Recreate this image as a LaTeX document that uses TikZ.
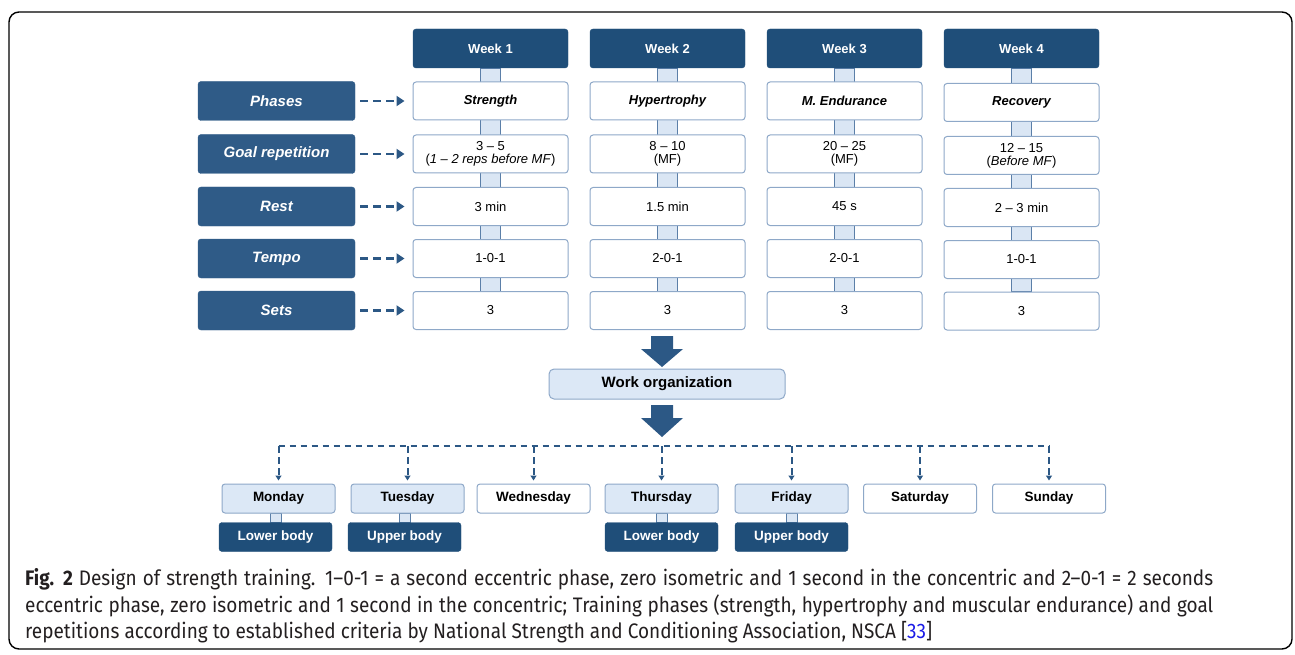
\documentclass[tikz,border=0pt]{standalone}
\usepackage{fontspec}
\setmainfont{Liberation Sans}
\newfontfamily\capfont{Fira Sans}
\usetikzlibrary{arrows.meta,backgrounds,calc}
\definecolor{hdr}{HTML}{1F4E79}
\definecolor{lbl}{HTML}{2F5B87}
\definecolor{cellborder}{HTML}{8EA8C8}
\definecolor{barfill}{HTML}{DAE6F4}
\definecolor{barborder}{HTML}{5B7FA8}
\definecolor{arrc}{HTML}{2C5885}
\definecolor{lightday}{HTML}{DCE8F6}
\definecolor{captext}{HTML}{231F20}
\definecolor{citeblue}{HTML}{1A1AE6}
\newsavebox\capboxA
\newsavebox\capboxB
\newsavebox\capboxC
\newlength\capwidthC
\newlength\capjust
\tikzset{
  hdrbox/.style={rectangle, rounded corners=3pt, fill=hdr, draw=hdr, text=white,
    font=\bfseries\fontsize{13}{15}\selectfont, minimum width=155pt, minimum height=39pt, inner sep=0pt},
  lblbox/.style={rectangle, rounded corners=3pt, fill=lbl, draw=lbl, text=white,
    font=\bfseries\itshape\fontsize{15}{17}\selectfont, minimum width=157pt, minimum height=39pt, inner sep=0pt},
  cellbox/.style={rectangle, rounded corners=3pt, fill=white, draw=cellborder, line width=1pt,
    font=\fontsize{13}{13}\selectfont, align=center, minimum width=155pt, minimum height=38pt, inner sep=0pt},
  phasetxt/.style={font=\bfseries\itshape\fontsize{13}{15}\selectfont},
  bar/.style={fill=barfill, draw=barborder, line width=0.9pt},
  dasharrow/.style={draw=arrc, line width=2.6pt, dash pattern=on 8pt off 5pt,
    -{Triangle[width=10pt,length=8pt]}, shorten <=5pt, shorten >=8pt},
  daydash/.style={draw=arrc, line width=2pt, dash pattern=on 6.5pt off 4.5pt},
  daybox/.style={rectangle, rounded corners=3pt, draw=cellborder, line width=1pt, fill=white,
    font=\bfseries\fontsize{13.5}{15}\selectfont, minimum width=113pt, minimum height=29pt, inner sep=0pt},
  lday/.style={daybox, fill=lightday},
  bodybox/.style={rectangle, rounded corners=3pt, fill=hdr, draw=hdr, text=white,
    font=\bfseries\fontsize{13.5}{15}\selectfont, minimum width=113pt, minimum height=29pt, inner sep=0pt},
  workbox/.style={rectangle, rounded corners=5pt, fill=lightday, draw=cellborder, line width=1pt,
    font=\bfseries\fontsize{15}{17}\selectfont, minimum width=236pt, minimum height=30pt, inner sep=0pt},
  bigarrow/.style={fill=arrc},
  capline/.style={anchor=base west, inner sep=0pt, text=captext}
}
\begin{document}
\sbox\capboxC{\capfont\fontsize{21}{25}\selectfont\color{captext}repetitions according to established criteria by National Strength and Conditioning Association, NSCA [\textcolor{citeblue}{33}]}%
\setlength\capwidthC{\wd\capboxC}%
\pgfmathsetmacro\capscale{907/\capwidthC}%
\pgfmathsetlength\capjust{1188pt/\capscale}%
\sbox\capboxA{\capfont\fontsize{21}{25}\selectfont\color{captext}\hbox to \capjust{\textbf{Fig. 2} Design of strength training. 1–0-1 = a second eccentric phase, zero isometric and 1 second in the concentric and 2–0-1 = 2 seconds}}%
\sbox\capboxB{\capfont\fontsize{21}{25}\selectfont\color{captext}\hbox to \capjust{eccentric phase, zero isometric and 1 second in the concentric; Training phases (strength, hypertrophy and muscular endurance) and goal}}%
\begin{tikzpicture}[x=1pt,y=-1pt]
\useasboundingbox (0,0) rectangle (1295,655);
\draw[black, line width=1.4pt, rounded corners=10pt] (9,12) rectangle (1292,649);

% week headers
\foreach \c/\x in {1/490.5,2/667.5,3/844.5,4/1021.5}
  \node[hdrbox] (w\c) at (\x,48.5) {Week \c};

% row labels
\foreach \r/\y/\t in {1/101/Phases,2/154/Goal repetition,3/206.5/Rest,4/258.5/Tempo,5/310.5/Sets}
  \node[lblbox] (l\r) at (276.5,\y) {\t};

% cells row 1
\node[cellbox,phasetxt] (c11) at (490.5,101) {Strength};
\node[cellbox,phasetxt] (c21) at (667.5,101) {Hypertrophy};
\node[cellbox,phasetxt] (c31) at (844.5,101) {M. Endurance};
\node[cellbox,phasetxt] (c41) at (1021.5,102.5) {Recovery};
% row 2
\node[cellbox] (c12) at (490.5,154) {3 -- 5\\(\textit{1 -- 2 reps before MF})};
\node[cellbox] (c22) at (667.5,154) {8 -- 10\\(MF)};
\node[cellbox] (c32) at (844.5,154) {20 -- 25\\(MF)};
\node[cellbox] (c42) at (1021.5,155.5) {12 -- 15\\(\textit{Before MF})};
% row 3
\node[cellbox] (c13) at (490.5,206.5) {3 min};
\node[cellbox] (c23) at (667.5,206.5) {1.5 min};
\node[cellbox] (c33) at (844.5,206.5) {45 s};
\node[cellbox] (c43) at (1021.5,207.5) {2 -- 3 min};
% row 4
\node[cellbox] (c14) at (490.5,258.5) {1-0-1};
\node[cellbox] (c24) at (667.5,258.5) {2-0-1};
\node[cellbox] (c34) at (844.5,258.5) {2-0-1};
\node[cellbox] (c44) at (1021.5,259.5) {1-0-1};
% row 5
\node[cellbox] (c15) at (490.5,310.5) {3};
\node[cellbox] (c25) at (667.5,310.5) {3};
\node[cellbox] (c35) at (844.5,310.5) {3};
\node[cellbox] (c45) at (1021.5,311) {3};

% connecting bars
\begin{pgfonlayer}{background}
\foreach \c in {1,2,3,4}
  \draw[bar] ($(w\c.south)+(-10,0)$) rectangle ($(c\c5.north)+(10,0)$);
\end{pgfonlayer}

% dashed arrows
\foreach \r in {1,...,5}
  \draw[dasharrow] (l\r.east) -- (c1\r.west);

% work organization
\node[workbox] (wo) at (667,384) {Work organization};
\coordinate (a1) at (662,336);
\fill[bigarrow] ($(a1)+(-11,0)$) -- ($(a1)+(11,0)$) -- ($(a1)+(11,13)$) -- ($(a1)+(21,13)$)
  -- ($(a1)+(0,31)$) -- ($(a1)+(-21,13)$) -- ($(a1)+(-11,13)$) -- cycle;
\coordinate (a2) at (662,405);
\fill[bigarrow] ($(a2)+(-11,0)$) -- ($(a2)+(11,0)$) -- ($(a2)+(11,13)$) -- ($(a2)+(21,13)$)
  -- ($(a2)+(0,32)$) -- ($(a2)+(-21,13)$) -- ($(a2)+(-11,13)$) -- cycle;

% days
\node[lday] (mon) at (278.5,498.5) {Monday};
\node[lday] (tue) at (407.5,498.5) {Tuesday};
\node[daybox] (wed) at (533.5,498.5) {Wednesday};
\node[lday] (thu) at (661.5,498.5) {Thursday};
\node[lday] (fri) at (791.5,498.5) {Friday};
\node[daybox] (sat) at (920,498.5) {Saturday};
\node[daybox] (sun) at (1049,498.5) {Sunday};

% body parts
\node[bodybox] (b1) at (275.5,537) {Lower body};
\node[bodybox] (b2) at (404.5,537) {Upper body};
\node[bodybox] (b3) at (661.5,537) {Lower body};
\node[bodybox] (b4) at (791.5,537) {Upper body};
\begin{pgfonlayer}{background}
\foreach \d/\b in {mon/b1,tue/b2,thu/b3,fri/b4}
  \draw[bar] ($(\b.north)+(-5.5,0)$) rectangle ($(\b.north |- \d.south)+(5.5,0)$);
\end{pgfonlayer}

% distribution dashed lines
\coordinate (hl) at (0,446);
\draw[daydash] (mon.north |- hl) -- (sun.north |- hl);
\foreach \d in {mon,tue,wed,thu,fri,sat,sun}
  \draw[daydash, -{Triangle[width=6pt,length=5pt]}, shorten >=3pt] (\d.north |- hl) -- (\d.north);

% caption
\node[capline] (cap1) at (25,585) {\scalebox{\capscale}[1]{\usebox\capboxA}};
\node[capline] (cap2) at (25,612) {\scalebox{\capscale}[1]{\usebox\capboxB}};
\node[capline] (cap3) at (25,638.5) {\scalebox{\capscale}[1]{\usebox\capboxC}};
\end{tikzpicture}
\end{document}
